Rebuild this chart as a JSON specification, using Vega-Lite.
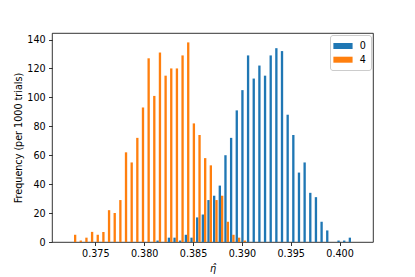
{
  "$schema": "https://vega.github.io/schema/vega-lite/v6.json",
  "width": 321,
  "height": 209,
  "autosize": {"type": "none"},
  "padding": {"left": 52, "top": 33, "right": 42, "bottom": 35},
  "background": "white",
  "config": {
    "font": "DejaVu Sans",
    "view": {"stroke": "#000000", "strokeWidth": 0.8},
    "axis": {
      "domain": false,
      "grid": false,
      "tickColor": "#000000",
      "tickWidth": 0.8,
      "tickSize": 3.5,
      "labelPadding": 3.4,
      "labelFontSize": 9.6,
      "labelColor": "#000000",
      "titleFontSize": 9.6,
      "titleFontWeight": "normal",
      "titleColor": "#000000"
    }
  },
  "data": {
    "values": [
      {"eta": 0.372817, "series": "4", "count": 5},
      {"eta": 0.373396, "series": "4", "count": 1},
      {"eta": 0.373974, "series": "4", "count": 3},
      {"eta": 0.374553, "series": "4", "count": 7},
      {"eta": 0.375132, "series": "4", "count": 5},
      {"eta": 0.375710, "series": "4", "count": 7},
      {"eta": 0.376289, "series": "4", "count": 22},
      {"eta": 0.376868, "series": "4", "count": 20},
      {"eta": 0.377446, "series": "4", "count": 29},
      {"eta": 0.378025, "series": "4", "count": 62},
      {"eta": 0.378604, "series": "4", "count": 55},
      {"eta": 0.379182, "series": "4", "count": 72},
      {"eta": 0.379761, "series": "4", "count": 93},
      {"eta": 0.380340, "series": "4", "count": 127},
      {"eta": 0.380918, "series": "4", "count": 101},
      {"eta": 0.381497, "series": "4", "count": 131},
      {"eta": 0.382076, "series": "4", "count": 115},
      {"eta": 0.382654, "series": "4", "count": 120},
      {"eta": 0.383233, "series": "4", "count": 120},
      {"eta": 0.383812, "series": "4", "count": 129},
      {"eta": 0.384390, "series": "4", "count": 138},
      {"eta": 0.384969, "series": "4", "count": 82},
      {"eta": 0.385548, "series": "4", "count": 74},
      {"eta": 0.386126, "series": "4", "count": 58},
      {"eta": 0.386705, "series": "4", "count": 53},
      {"eta": 0.387284, "series": "4", "count": 29},
      {"eta": 0.387862, "series": "4", "count": 32},
      {"eta": 0.388441, "series": "4", "count": 14},
      {"eta": 0.389019, "series": "4", "count": 5},
      {"eta": 0.389598, "series": "4", "count": 3},
      {"eta": 0.390177, "series": "4", "count": 1},
      {"eta": 0.381497, "series": "0", "count": 1},
      {"eta": 0.382654, "series": "0", "count": 3},
      {"eta": 0.383233, "series": "0", "count": 3},
      {"eta": 0.383812, "series": "0", "count": 1},
      {"eta": 0.384390, "series": "0", "count": 5},
      {"eta": 0.384969, "series": "0", "count": 3},
      {"eta": 0.385548, "series": "0", "count": 17},
      {"eta": 0.386126, "series": "0", "count": 19},
      {"eta": 0.386705, "series": "0", "count": 29},
      {"eta": 0.387284, "series": "0", "count": 32},
      {"eta": 0.387862, "series": "0", "count": 39},
      {"eta": 0.388441, "series": "0", "count": 60},
      {"eta": 0.389019, "series": "0", "count": 72},
      {"eta": 0.389598, "series": "0", "count": 91},
      {"eta": 0.390177, "series": "0", "count": 105},
      {"eta": 0.390755, "series": "0", "count": 129},
      {"eta": 0.391334, "series": "0", "count": 113},
      {"eta": 0.391913, "series": "0", "count": 122},
      {"eta": 0.392491, "series": "0", "count": 115},
      {"eta": 0.393070, "series": "0", "count": 129},
      {"eta": 0.393649, "series": "0", "count": 134},
      {"eta": 0.394227, "series": "0", "count": 132},
      {"eta": 0.394806, "series": "0", "count": 88},
      {"eta": 0.395385, "series": "0", "count": 74},
      {"eta": 0.395963, "series": "0", "count": 48},
      {"eta": 0.396542, "series": "0", "count": 55},
      {"eta": 0.397121, "series": "0", "count": 34},
      {"eta": 0.397699, "series": "0", "count": 31},
      {"eta": 0.398278, "series": "0", "count": 14},
      {"eta": 0.398857, "series": "0", "count": 8},
      {"eta": 0.400014, "series": "0", "count": 1},
      {"eta": 0.400593, "series": "0", "count": 1},
      {"eta": 0.401171, "series": "0", "count": 3}
    ]
  },
  "encoding": {
    "x": {
      "field": "eta",
      "type": "quantitative",
      "scale": {"domain": [0.371081, 0.402907], "nice": false, "zero": false},
      "axis": {
        "values": [0.375, 0.38, 0.385, 0.39, 0.395, 0.4],
        "format": ".3f",
        "title": "η̂",
        "titleFontStyle": "italic",
        "titlePadding": 5
      }
    },
    "y": {
      "field": "count",
      "type": "quantitative",
      "scale": {"domain": [0, 144.5], "nice": false},
      "axis": {
        "values": [0, 20, 40, 60, 80, 100, 120, 140],
        "title": "Frequency (per 1000 trials)",
        "titlePadding": 3
      }
    },
    "color": {
      "field": "series",
      "type": "nominal",
      "scale": {"domain": ["0", "4"], "range": ["#1f77b4", "#ff7f0e"]},
      "legend": {
        "title": null,
        "orient": "top-right",
        "offset": 2,
        "padding": 5,
        "rowPadding": 2.7,
        "symbolType": "M-1.27,-0.5H1.93V0.5H-1.27Z",
        "symbolSize": 144,
        "symbolStrokeWidth": 0,
        "symbolOpacity": 1,
        "labelOffset": 12.7,
        "labelFontSize": 9.6,
        "labelColor": "#000000",
        "strokeColor": "#cccccc",
        "fillColor": "rgba(255,255,255,0.8)",
        "cornerRadius": 2.5
      }
    }
  },
  "layer": [
    {
      "transform": [{"filter": "datum.series === '0'"}],
      "mark": {"type": "bar", "size": 2.33, "xOffset": -1.17, "opacity": 1}
    },
    {
      "transform": [{"filter": "datum.series === '4'"}],
      "mark": {"type": "bar", "size": 2.33, "xOffset": 1.17, "opacity": 1}
    }
  ]
}
